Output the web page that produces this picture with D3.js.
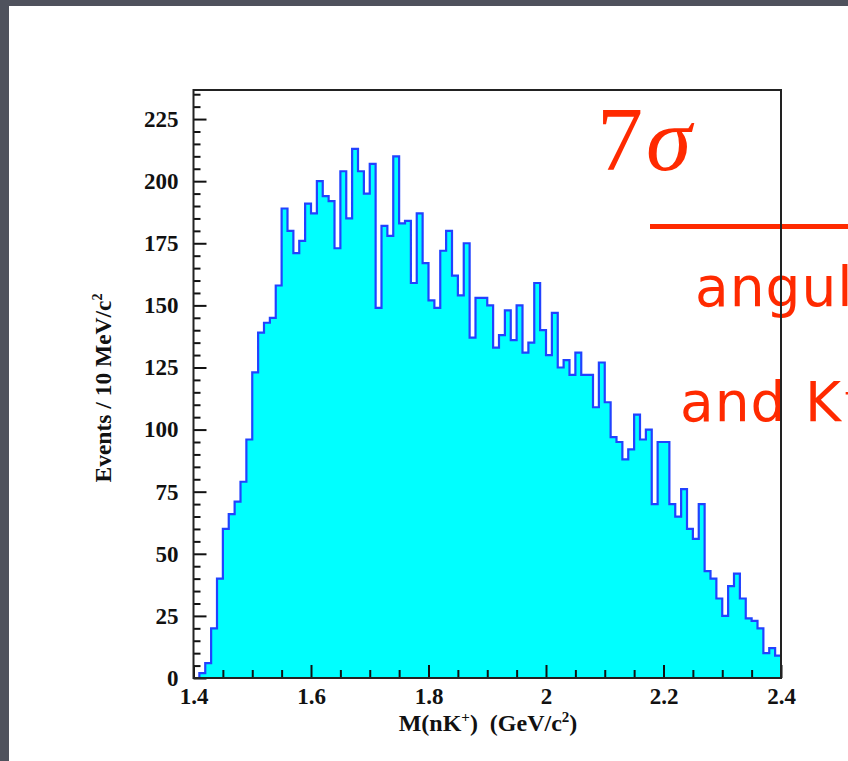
<!DOCTYPE html>
<html>
<head>
<meta charset="utf-8">
<script src="https://cdn.jsdelivr.net/npm/d3@7"></script>
<style>
  html, body { margin: 0; padding: 0; background: #ffffff; overflow: hidden; }
  svg { display: block; }
</style>
</head>
<body>
<svg id="chart" width="848" height="761"></svg>
<script>
// M(nK+) spectrum, 10 MeV/c^2 bins from 1.40 to 2.40 GeV/c^2
const massRange = [1.40, 2.40];
const binWidth = 0.01;
const counts = [
    0,   2,   6,  20,  40,  60,  66,  71,  79,  96,
  123, 139, 143, 145, 158, 189, 180, 171, 176, 191,
  187, 200, 194, 192, 173, 204, 185, 213, 204, 195,
  207, 149, 182, 178, 210, 183, 184, 159, 187, 167,
  152, 149, 172, 180, 162, 154, 175, 137, 153, 153,
  150, 133, 138, 148, 136, 150, 131, 135, 159, 140,
  130, 147, 125, 128, 122, 131, 122, 122, 109, 127,
  111,  97,  95,  88,  92, 106,  96, 100,  70,  95,
   95,  70,  65,  76,  60,  56,  70,  43,  40,  32,
   25,  37,  42,  32,  24,  23,  20,  10,  12,   9
];
const yMax = 236.7;

const xTickValues = [1.4, 1.6, 1.8, 2.0, 2.2, 2.4];
const xTickLabels = ["1.4", "1.6", "1.8", "2", "2.2", "2.4"];
const xMinorTicks = [1.45, 1.5, 1.55, 1.65, 1.7, 1.75, 1.85, 1.9, 1.95, 2.05, 2.1, 2.15, 2.25, 2.3, 2.35];
const yTickValues = [0, 25, 50, 75, 100, 125, 150, 175, 200, 225];
const yTickLabels = ["0", "25", "50", "75", "100", "125", "150", "175", "200", "225"];
const yMinorTicks = d3.range(0, 236, 5).filter(v => v % 25 !== 0);

const W = 848, H = 761;
const frame = { left: 193.5, right: 781, top: 90, bottom: 678 };

const svg = d3.select("#chart");

// slide backdrop: dark border along the top and left, white page
svg.append("rect").attr("width", W).attr("height", H).attr("fill", "#4f525d");
svg.append("rect").attr("x", 9).attr("y", 6).attr("width", W - 9).attr("height", H - 6).attr("fill", "#ffffff");

const x = d3.scaleLinear().domain(massRange).range([frame.left, frame.right]);
const y = d3.scaleLinear().domain([0, yMax]).range([frame.bottom, frame.top]);

// histogram points: low edge of each bin, plus the closing edge
const pts = counts.map((c, i) => ({ m: massRange[0] + i * binWidth, c }));
pts.push({ m: massRange[1], c: counts[counts.length - 1] });

const area = d3.area()
  .x(d => x(d.m)).y0(y(0)).y1(d => y(d.c))
  .curve(d3.curveStepAfter);
const line = d3.line()
  .x(d => x(d.m)).y(d => y(d.c))
  .curve(d3.curveStepAfter);

svg.append("path").datum(pts).attr("d", area).attr("fill", "#00ffff");
svg.append("path").datum(pts).attr("d", line)
  .attr("fill", "none").attr("stroke", "#2142ff").attr("stroke-width", 2.2)
  .attr("stroke-linejoin", "miter");

// slide annotations in red
const red = "#ff2a00";
const sig = svg.append("text")
  .attr("x", 597).attr("y", 170)
  .attr("font-family", "'Liberation Serif', 'DejaVu Serif', serif")
  .attr("font-size", 92).attr("fill", red);
sig.append("tspan").text("7");
sig.append("tspan").attr("font-style", "italic").attr("dx", 3).text("σ");

svg.append("line")
  .attr("x1", 650).attr("x2", W).attr("y1", 226.5).attr("y2", 226.5)
  .attr("stroke", red).attr("stroke-width", 5);

const noteFont = "'DejaVu Sans', 'Noto Sans', sans-serif";
svg.append("text")
  .attr("x", 695).attr("y", 306)
  .attr("font-family", noteFont)
  .attr("font-size", 55).attr("letter-spacing", 1).attr("fill", red)
  .text("angular");
svg.append("text")
  .attr("x", 680).attr("y", 421)
  .attr("font-family", noteFont)
  .attr("font-size", 55).attr("letter-spacing", 1).attr("fill", red)
  .text("and K⁺");

// axes with inward ticks
const tickFont = "'Liberation Serif', 'Times New Roman', serif";
const xAxis = d3.axisBottom(x)
  .tickValues(xTickValues)
  .tickFormat((d, i) => xTickLabels[i])
  .tickSize(-13).tickPadding(10);
const xMinor = d3.axisBottom(x).tickValues(xMinorTicks).tickFormat("").tickSize(-8);
const yAxis = d3.axisLeft(y)
  .tickValues(yTickValues)
  .tickFormat((d, i) => yTickLabels[i])
  .tickSize(-13).tickPadding(15);
const yMinor = d3.axisLeft(y).tickValues(yMinorTicks).tickFormat("").tickSize(-7);

function styleAxis(g) {
  g.select(".domain").remove();
  g.selectAll(".tick line").attr("stroke", "#111").attr("stroke-width", 2);
  g.selectAll(".tick text")
    .attr("font-family", tickFont).attr("font-weight", "bold")
    .attr("font-size", 23).attr("fill", "#111");
}

svg.append("g").attr("transform", `translate(0,${frame.bottom})`).call(xMinor).call(styleAxis);
svg.append("g").attr("transform", `translate(0,${frame.bottom})`).call(xAxis).call(styleAxis);
svg.append("g").attr("transform", `translate(${frame.left},0)`).call(yMinor).call(styleAxis);
svg.append("g").attr("transform", `translate(${frame.left},0)`).call(yAxis).call(styleAxis);

// frame
svg.append("rect")
  .attr("x", frame.left).attr("y", frame.top)
  .attr("width", frame.right - frame.left).attr("height", frame.bottom - frame.top)
  .attr("fill", "none").attr("stroke", "#222").attr("stroke-width", 2);

// axis titles
const xTitle = svg.append("text")
  .attr("x", 488).attr("y", 731).attr("text-anchor", "middle")
  .attr("font-family", tickFont).attr("font-weight", "bold")
  .attr("font-size", 24).attr("fill", "#111");
xTitle.append("tspan").text("M(nK");
xTitle.append("tspan").attr("font-size", 15).attr("dy", -9).text("+");
xTitle.append("tspan").attr("dy", 9).text(")\u00a0\u00a0(GeV/c");
xTitle.append("tspan").attr("font-size", 15).attr("dy", -9).text("2");
xTitle.append("tspan").attr("dy", 9).text(")");

const yTitle = svg.append("text")
  .attr("transform", "translate(111,388) rotate(-90)")
  .attr("text-anchor", "middle")
  .attr("font-family", tickFont).attr("font-weight", "bold")
  .attr("font-size", 23.5).attr("fill", "#111");
yTitle.append("tspan").text("Events / 10 MeV/c");
yTitle.append("tspan").attr("font-size", 14).attr("dy", -9).text("2");
</script>
</body>
</html>
